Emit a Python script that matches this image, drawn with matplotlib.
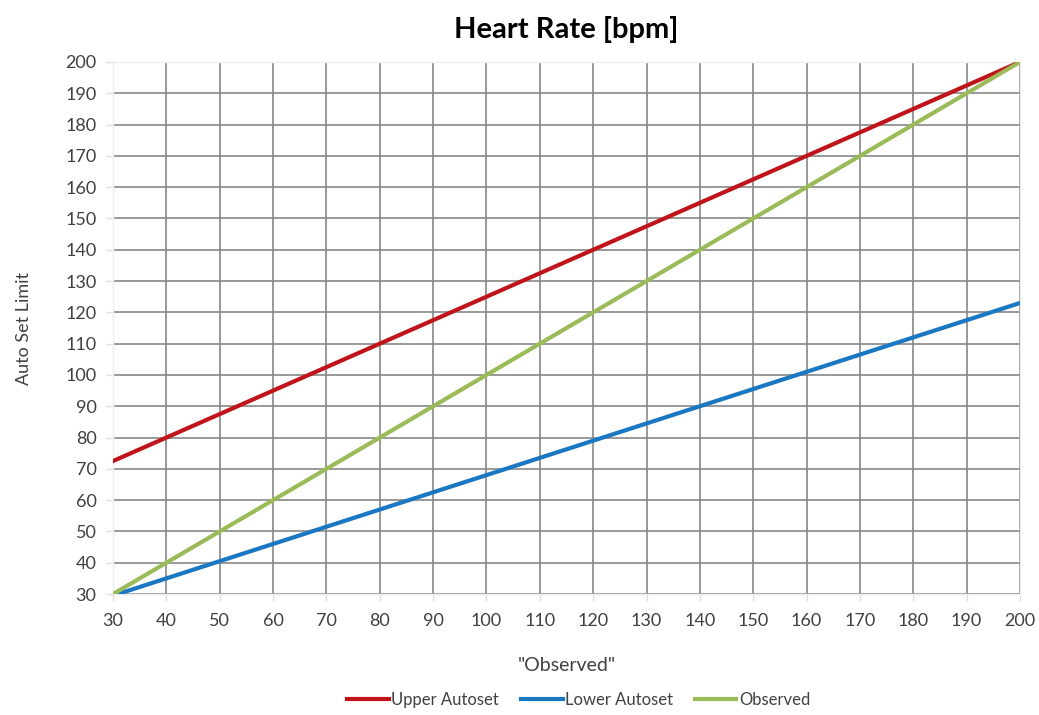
import matplotlib.pyplot as plt

# heart rate limits, sampled every 10 bpm
observed = [30, 40, 50, 60, 70, 80, 90, 100, 110, 120, 130, 140, 150, 160, 170, 180, 190, 200]
upper_autoset = [72.5, 80, 87.5, 95, 102.5, 110, 117.5, 125, 132.5, 140, 147.5, 155,
                 162.5, 170, 177.5, 185, 192.5, 200]
lower_autoset = [29.5, 35, 40.5, 46, 51.5, 57, 62.5, 68, 73.5, 79, 84.5, 90,
                 95.5, 101, 106.5, 112, 117.5, 123]
ticks = list(range(30, 201, 10))

plt.rcParams['font.family'] = ['Lato', 'DejaVu Sans']
text_col = '#404040'

fig = plt.figure(figsize=(10.39, 7.15), dpi=100)
ax = fig.add_axes([0.1088, 0.1692, 0.8729, 0.7441])

ax.plot(observed, upper_autoset, color='#c0141b', lw=3, label='Upper Autoset', zorder=3)
ax.plot(observed, lower_autoset, color='#1a78c2', lw=3, label='Lower Autoset', zorder=3)
ax.plot(observed, observed, color='#9bbb59', lw=3, label='Observed', zorder=3)

ax.set_xlim(30, 200)
ax.set_ylim(30, 200)
ax.set_xticks(ticks)
ax.set_yticks(ticks)
ax.grid(True, color='#878787', lw=1.2)
ax.set_axisbelow(True)
for s in ax.spines.values():
    s.set_color('#eeeeee')
    s.set_linewidth(1)
ax.tick_params(colors='#e0e0e0', labelcolor=text_col, labelsize=13, length=5, width=1)
ax.tick_params(axis='x', pad=9)
ax.tick_params(axis='y', pad=7)

ax.set_title('Heart Rate [bpm]', fontsize=21, fontweight='bold', color='black', pad=17)
ax.set_xlabel('"Observed"', fontsize=14, color=text_col, labelpad=20)
ax.set_ylabel('Auto Set Limit', fontsize=13, color=text_col, labelpad=24)

fig.legend(loc='center', bbox_to_anchor=(0.557, 0.021), ncol=3, frameon=False,
           fontsize=12, handlelength=2.5, handletextpad=0.15, columnspacing=1.3,
           labelcolor=text_col)

fig.savefig('out.png', dpi=100)
